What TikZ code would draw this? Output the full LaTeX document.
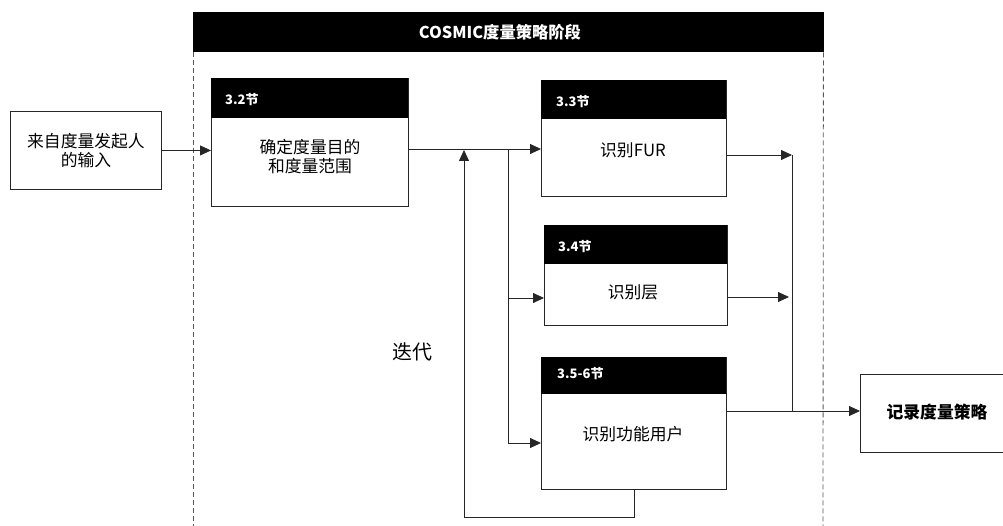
\documentclass[tikz,border=0pt]{standalone}
\usepackage{fontspec}
\setmainfont{Noto Sans CJK SC}
\usetikzlibrary{arrows.meta}
\begin{document}
\begin{tikzpicture}[x=1pt,y=-1pt,
 box/.style={draw=black!85,line width=0.9pt,fill=white,anchor=north west,inner sep=0pt},
 hdr/.style={fill=black,anchor=north west,inner sep=0pt},
 htxt/.style={text=white,font=\bfseries\fontsize{13}{15}\selectfont,anchor=west,inner sep=0pt},
 btxt/.style={font=\fontsize{16.8}{19}\selectfont,align=center,inner sep=0pt},
 conn/.style={draw=black!85,line width=0.8pt},
 arr/.style={conn,-{Triangle[length=11pt,width=10pt]}},
 dashline/.style={draw=black!65,line width=0.8pt,dash pattern=on 5pt off 3pt}
]
\useasboundingbox (0,0) rectangle (1003,526);

% phase header
\node[hdr,minimum width=631pt,minimum height=40pt] (phase) at (193,12) {};
\node[htxt,anchor=center,font=\bfseries\fontsize{16.3}{18}\selectfont] (phasetxt) at (500,32) {COSMIC度量策略阶段};
\draw[dashline] (phase.south west) -- (193,526);
\draw[dashline] ([xshift=-1pt]phase.south east) -- (823,526);

% input
\node[box,minimum width=151pt,minimum height=78pt] (in) at (10,111) {};
\node[btxt] (intxt) at (in.center) {来自度量发起人\\的输入};

% 3.2
\node[box,minimum width=197pt,minimum height=128pt] (b32) at (211,78) {};
\node[hdr,minimum width=197pt,minimum height=40pt] (h32) at (211,78) {};
\node[htxt] (t32) at (225,100) {3.2节};
\node[btxt] (x32) at (310,157) {确定度量目的\\和度量范围};

% 3.3
\node[box,minimum width=185pt,minimum height=116pt] (b33) at (541,80) {};
\node[hdr,minimum width=185pt,minimum height=39pt] (h33) at (541,80) {};
\node[htxt] (t33) at (556,102) {3.3节};
\node[btxt] (x33) at (633,150) {识别FUR};

% 3.4
\node[box,minimum width=183pt,minimum height=100pt] (b34) at (544,225) {};
\node[hdr,minimum width=183pt,minimum height=39pt] (h34) at (544,225) {};
\node[htxt] (t34) at (558,247) {3.4节};
\node[btxt] (x34) at (633,292) {识别层};

% 3.5-6
\node[box,minimum width=185pt,minimum height=132pt] (b356) at (541,357) {};
\node[hdr,minimum width=185pt,minimum height=37pt] (h356) at (541,357) {};
\node[htxt] (t356) at (557,374) {3.5-6节};
\node[btxt] (x356) at (633,434) {识别功能用户};

% output
\node[box,minimum width=145pt,minimum height=78pt] (out) at (860,374) {};
\node[btxt,font=\bfseries\fontsize{16.8}{19}\selectfont] (outtxt) at (937,412) {记录度量策略};

% iteration label
\node[font=\fontsize{20}{24}\selectfont,inner sep=0pt] (iter) at (412,352) {迭代};

% coordinates
\coordinate (sp) at (508,149);
\coordinate (r4) at (508,298);
\coordinate (r56) at (508,443);
\coordinate (fb) at (464,517);
\coordinate (fbtop) at (464,150);
\coordinate (m1) at (792,155);
\coordinate (m2) at (789,297);
\coordinate (m3) at (792,411);

% connectors
\draw[arr] (in.east) -- (b32.west |- in.east);
\draw[arr] (b32.east |- sp) -- (b33.west |- sp);
\draw[conn] (sp) -- (r56);
\draw[arr] (r4) -- (b34.west |- r4);
\draw[arr] (r56) -- (b356.west |- r56);
\draw[arr] (b356.south) |- (fb) -- (fbtop);
\draw[arr] (b33.east |- m1) -- (m1);
\draw[arr] (b34.east |- m2) -- (m2);
\draw[conn] (m1) -- (m3);
\draw[arr] (b356.east |- m3) -- (out.west |- m3);
\end{tikzpicture}
\end{document}
